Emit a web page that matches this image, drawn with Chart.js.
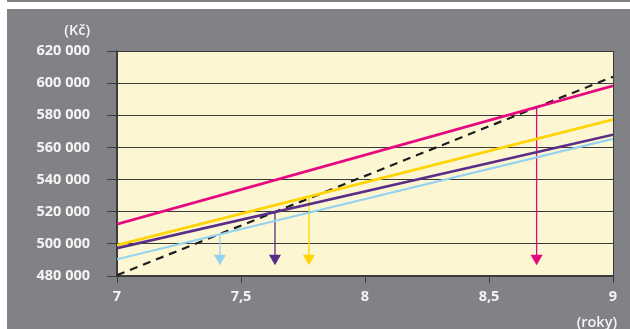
<!DOCTYPE html>
<html>
<head>
<meta charset="utf-8">
<script src="https://cdn.jsdelivr.net/npm/chart.js@4/dist/chart.umd.min.js"></script>
<style>
  html, body { margin: 0; padding: 0; background: #fff; }
  body { width: 630px; height: 329px; position: relative; overflow: hidden; }
  #topbar { position: absolute; left: 7px; top: 0; width: 623px; height: 2px; background: #818286; }
  #panel { position: absolute; left: 7px; top: 9px; width: 623px; height: 320px; background: #818286; }
  #wrap { position: absolute; left: 0; top: 0; width: 623px; height: 320px; }
  .unit { position: absolute; color: #f4f4f4; font: 600 14.5px "Open Sans", sans-serif; white-space: nowrap; line-height: 18px; }
  #kc { right: calc(623px - 83px); top: 12px; }
  #roky { right: 13px; top: 304px; }
</style>
</head>
<body>
<div id="topbar"></div>
<div id="panel">
  <div id="wrap"><canvas id="c"></canvas></div>
  <div class="unit" id="kc">(Kč)</div>
  <div class="unit" id="roky">(roky)</div>
</div>
<script>
// roky (osa x) a hodnoty v Kč (osa y)
const years = [7, 9];
const lineBlue = [490400, 565400];
const linePurple = [497300, 567900];
const lineYellow = [499200, 577300];
const lineMagenta = [512300, 598300];
const lineDashed = [480500, 604000];

// šipky: průsečík s čárkovanou čarou -> dolů
const arrowX = [7.415, 7.637, 7.774, 8.692];
const arrowTop = [506000, 519800, 529400, 585000];
const arrowBottom = [491000, 491000, 491000, 491000];
const arrowColors = ['#93d3ef', '#5a2d86', '#ffd400', '#e5097f'];

const xTicks = [7, 7.5, 8, 8.5, 9];
const yMin = 480000, yMax = 620000, yStep = 20000;

const gridDark = '#3b3b3b';

function pts(ys) {
  return years.map((x, i) => ({x: x, y: ys[i]}));
}

function lineSet(data, color, width, dash) {
  return {
    data: pts(data), borderColor: color, borderWidth: width,
    borderDash: dash || [], pointRadius: 0, fill: false
  };
}

const datasets = [
  lineSet(lineBlue, '#93d3ef', 2.2),
  lineSet(linePurple, '#5a2d86', 2.7),
  lineSet(lineYellow, '#ffd400', 2.7),
  lineSet(lineMagenta, '#e5097f', 2.7),
  lineSet(lineDashed, '#1e1e1e', 2.2, [8, 6])
];

// šipky jako krátké čáry s trojúhelníkem na konci
arrowX.forEach((x, i) => {
  datasets.push({
    data: [{x: x, y: arrowTop[i]}, {x: x, y: arrowBottom[i]}],
    borderColor: arrowColors[i], backgroundColor: arrowColors[i],
    borderWidth: 1.3,
    pointStyle: 'triangle', rotation: 180,
    pointRadius: [0, 7], pointBorderWidth: 0, pointHoverRadius: 0
  });
});

// krémové pozadí plochy grafu
const areaBg = {
  id: 'areaBg',
  beforeDraw(chart) {
    const a = chart.chartArea, ctx = chart.ctx;
    ctx.save();
    ctx.fillStyle = '#fdf6d3';
    ctx.fillRect(a.left, a.top, a.right - a.left, a.bottom - a.top);
    ctx.restore();
  }
};

const tickFont = {family: '"Open Sans", sans-serif', size: 14.5, weight: 'bold'};

new Chart(document.getElementById('c'), {
  type: 'line',
  data: {datasets},
  plugins: [areaBg],
  options: {
    responsive: true, maintainAspectRatio: false, animation: false,
    layout: {padding: {left: 0, right: 17, top: 42, bottom: 0}},
    plugins: {legend: {display: false}, tooltip: {enabled: false}},
    scales: {
      x: {
        type: 'linear', min: 7, max: 9,
        afterBuildTicks: s => { s.ticks = xTicks.map(v => ({value: v})); },
        afterFit: s => { s.height = 53; },
        ticks: {
          color: '#f4f4f4', font: tickFont, padding: 5,
          callback: v => String(v).replace('.', ',')
        },
        grid: {
          color: c => (c.tick && (c.tick.value === 7 || c.tick.value === 9)) ? gridDark : 'rgba(0,0,0,0)',
          tickColor: gridDark, tickLength: 7, lineWidth: 1
        },
        border: {color: gridDark, width: 1.2}
      },
      y: {
        min: yMin, max: yMax,
        afterFit: s => { s.width = 110; },
        ticks: {
          stepSize: yStep, color: '#f4f4f4', font: tickFont, padding: 17,
          callback: v => String(v).replace(/\B(?=(\d{3})+(?!\d))/g, ' ')
        },
        grid: {color: gridDark, tickColor: gridDark, tickLength: 10, lineWidth: 1},
        border: {color: gridDark, width: 1.2}
      }
    }
  }
});
</script>
</body>
</html>
